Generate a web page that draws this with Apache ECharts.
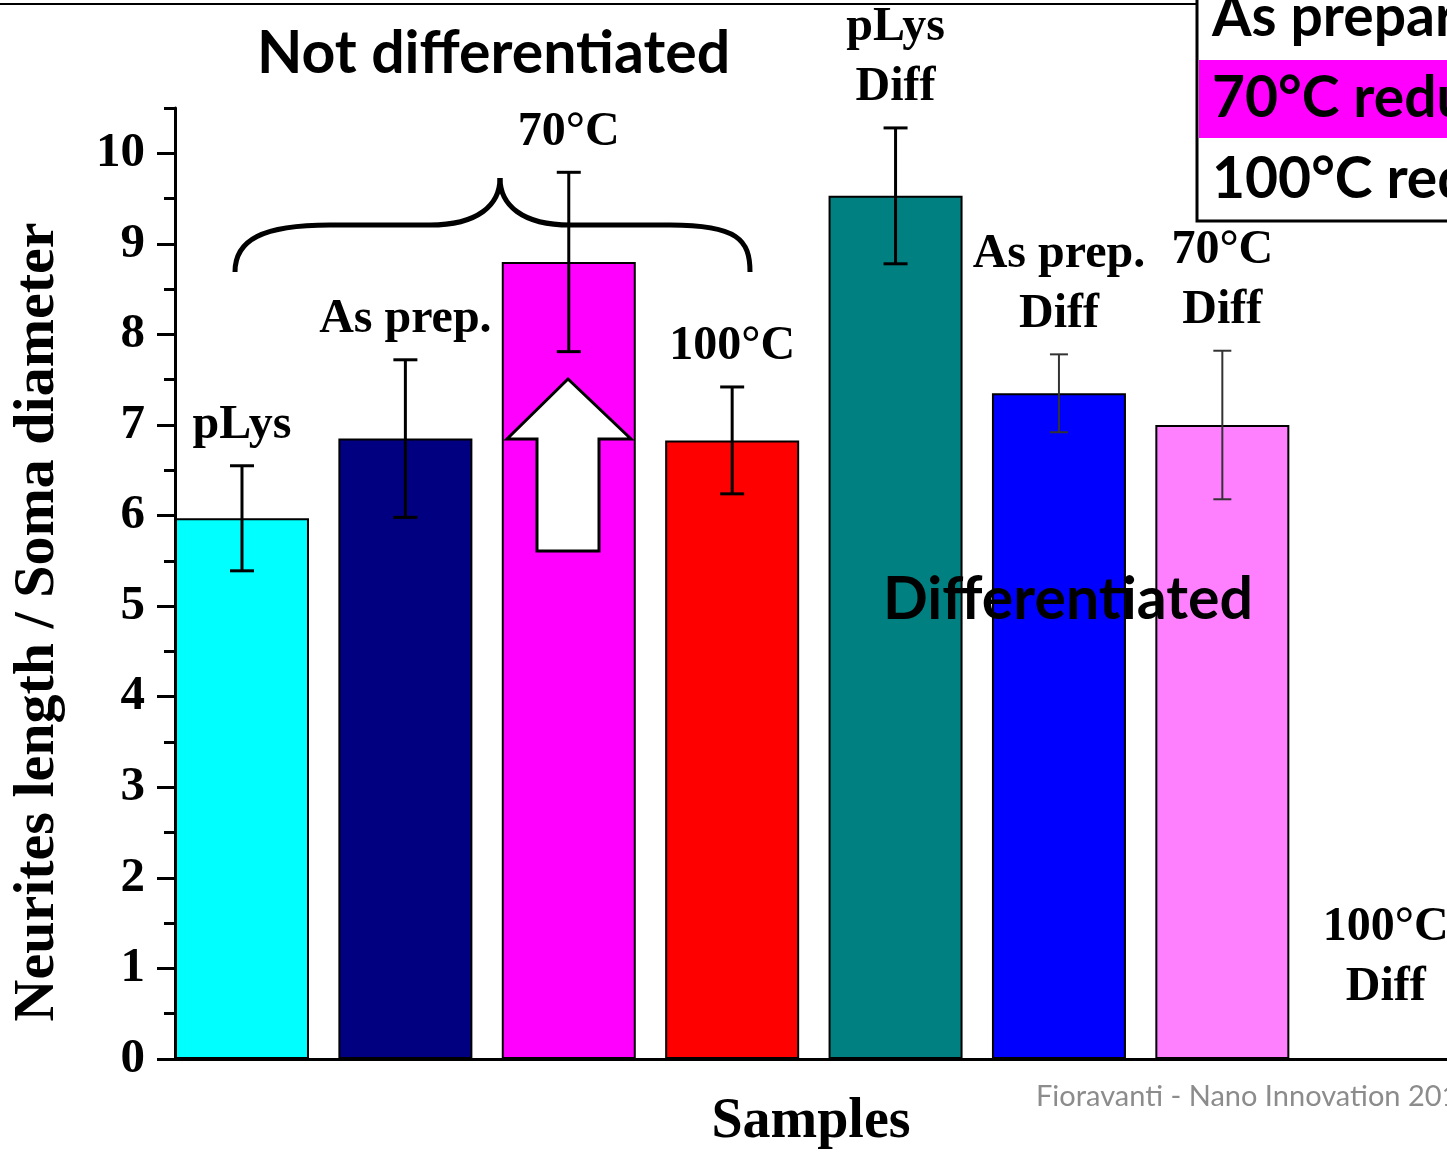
<!DOCTYPE html>
<html>
<head>
<meta charset="utf-8">
<script src="https://cdn.jsdelivr.net/npm/echarts@6/dist/echarts.min.js"></script>
<style>
  html, body { margin: 0; padding: 0; background: #fff; }
  #chart { width: 1447px; height: 1152px; }
</style>
</head>
<body>
<div id="chart"></div>
<script>
// data
var categories = ['pLys', 'As prep.', '70°C', '100°C', 'pLys\nDiff', 'As prep.\nDiff', '70°C\nDiff', '100°C\nDiff'];
var means = [5.97, 6.85, 8.80, 6.83, 9.53, 7.35, 7.00, null];
var errors = [0.58, 0.87, 0.99, 0.59, 0.75, 0.43, 0.82, null];
var yTicks = [0, 1, 2, 3, 4, 5, 6, 7, 8, 9, 10];
var yMinorTicks = [0.5, 1.5, 2.5, 3.5, 4.5, 5.5, 6.5, 7.5, 8.5, 9.5, 10.5];
var legendItems = ['As prepared', '70°C reduced', '100°C reduced'];
var emptyLabelAt = 0.35; // the last sample has no bar, its label sits low

var barColors = ['#00ffff', '#000080', '#ff00ff', '#ff0000', '#008080', '#0000ff', '#ff80ff', '#ffffff'];
var serif = '"Liberation Serif", "Times New Roman", serif';
var sans = 'Lato, "Open Sans", sans-serif';

var barData = [];
var errData = [];
var labelData = [];
for (var i = 0; i < categories.length; i++) {
    if (means[i] != null) {
        barData.push({ value: [i, means[i]], itemStyle: { color: barColors[i] } });
        errData.push([i, means[i] - errors[i], means[i] + errors[i]]);
        labelData.push([i, means[i] + errors[i]]);
    } else {
        labelData.push([i, emptyLabelAt]);
    }
}

function renderErr(params, api) {
    var x = api.value(0);
    var lo = api.coord([x, api.value(1)]);
    var hi = api.coord([x, api.value(2)]);
    var thin = x >= 5;
    var cap = thin ? 9 : 12;
    var style = { stroke: thin ? '#333' : '#000', lineWidth: thin ? 2 : 3 };
    return {
        type: 'group',
        children: [
            { type: 'line', shape: { x1: hi[0], y1: hi[1], x2: lo[0], y2: lo[1] }, style: style },
            { type: 'line', shape: { x1: hi[0] - cap, y1: hi[1], x2: hi[0] + cap, y2: hi[1] }, style: style },
            { type: 'line', shape: { x1: lo[0] - cap, y1: lo[1], x2: lo[0] + cap, y2: lo[1] }, style: style }
        ]
    };
}

var braceStyle = { fill: null, stroke: '#000', lineWidth: 5 };
var legendFont = 'bold 57px ' + sans;

var chart = echarts.init(document.getElementById('chart'));

var option = {
    backgroundColor: '#fff',
    animation: false,
    grid: { left: 175, right: 0, top: 108, bottom: 93, outerBoundsMode: 'none', containLabel: false },
    xAxis: {
        type: 'value',
        min: -0.41,
        max: 7.375,
        name: 'Samples',
        nameLocation: 'middle',
        nameGap: 36,
        nameTextStyle: { fontFamily: serif, fontWeight: 'bold', fontSize: 56, color: '#000' },
        axisLine: { onZero: false, lineStyle: { color: '#000', width: 3 } },
        axisTick: { show: false },
        axisLabel: { show: false },
        splitLine: { show: false }
    },
    yAxis: [
        {
            type: 'value',
            min: 0,
            max: 10.5,
            axisLine: { show: true, onZero: false, lineStyle: { color: '#000', width: 3 } },
            axisTick: { show: true, customValues: yTicks, length: 18, lineStyle: { color: '#000', width: 3 } },
            axisLabel: {
                customValues: yTicks,
                margin: 30,
                fontFamily: serif,
                fontWeight: 'bold',
                fontSize: 49,
                color: '#000'
            },
            splitLine: { show: false }
        },
        {
            type: 'value',
            min: 0,
            max: 10.5,
            position: 'left',
            axisLine: { show: false, onZero: false },
            axisTick: { show: true, customValues: yMinorTicks, length: 11, lineStyle: { color: '#000', width: 3 } },
            axisLabel: { show: false },
            splitLine: { show: false }
        }
    ],
    series: [
        {
            type: 'bar',
            barWidth: 134,
            data: barData,
            itemStyle: { borderColor: '#000', borderWidth: 2 },
            z: 2
        },
        {
            type: 'custom',
            renderItem: renderErr,
            data: errData,
            encode: { x: 0, y: [1, 2] },
            clip: false,
            z: 3
        },
        {
            type: 'scatter',
            symbolSize: 0,
            data: labelData,
            silent: true,
            itemStyle: { opacity: 1 },
            label: {
                show: true,
                position: 'top',
                distance: 10,
                formatter: function (p) { return categories[p.dataIndex]; },
                fontFamily: serif,
                fontWeight: 'bold',
                fontSize: 48,
                lineHeight: 60,
                color: '#000'
            },
            z: 4
        }
    ],
    graphic: [
        // frame line along the top of the slide
        { type: 'line', shape: { x1: 0, y1: 4, x2: 1197, y2: 4 }, style: { stroke: '#000', lineWidth: 2 }, z: 10 },
        {
            type: 'text', x: 38, y: 622, rotation: Math.PI / 2, z: 10,
            style: { text: 'Neurites length / Soma diameter', font: 'bold 58px ' + serif, fill: '#000', align: 'center', verticalAlign: 'middle' }
        },
        {
            type: 'text', x: 257, y: 24, z: 10,
            style: { text: 'Not differentiated', font: 'bold 59px ' + sans, fill: '#000' }
        },
        // curly brace over the undifferentiated group
        { type: 'bezierCurve', z: 10, shape: { x1: 235, y1: 272, cpx1: 235, cpy1: 240, cpx2: 262, cpy2: 225, x2: 330, y2: 225 }, style: braceStyle },
        { type: 'line', z: 10, shape: { x1: 330, y1: 225, x2: 430, y2: 225 }, style: braceStyle },
        { type: 'bezierCurve', z: 10, shape: { x1: 430, y1: 225, cpx1: 478, cpy1: 225, cpx2: 500, cpy2: 205, x2: 500, y2: 178 }, style: braceStyle },
        { type: 'bezierCurve', z: 10, shape: { x1: 500, y1: 178, cpx1: 500, cpy1: 205, cpx2: 522, cpy2: 225, x2: 570, y2: 225 }, style: braceStyle },
        { type: 'line', z: 10, shape: { x1: 570, y1: 225, x2: 670, y2: 225 }, style: braceStyle },
        { type: 'bezierCurve', z: 10, shape: { x1: 670, y1: 225, cpx1: 738, cpy1: 225, cpx2: 750, cpy2: 240, x2: 750, y2: 272 }, style: braceStyle },
        {
            type: 'polygon', z: 10,
            shape: { points: [[568, 379], [631, 439], [599, 439], [599, 551], [537, 551], [537, 439], [507, 439]] },
            style: { fill: '#fff', stroke: '#000', lineWidth: 3 }
        },
        {
            type: 'text', x: 883, y: 570, z: 10,
            style: { text: 'Differentiated', font: 'bold 59px ' + sans, fill: '#000' }
        },
        // legend box, cut by the right edge
        { type: 'rect', z: 10, shape: { x: 1197, y: -10, width: 300, height: 231 }, style: { fill: '#fff', stroke: '#000', lineWidth: 3 } },
        { type: 'rect', z: 11, shape: { x: 1199, y: 60, width: 260, height: 78 }, style: { fill: '#ff00ff' } },
        { type: 'text', z: 12, x: 1212, y: -11, style: { text: legendItems[0], font: legendFont, fill: '#000' } },
        { type: 'text', z: 12, x: 1212, y: 70, style: { text: legendItems[1], font: legendFont, fill: '#000' } },
        { type: 'text', z: 12, x: 1212, y: 151, style: { text: legendItems[2], font: legendFont, fill: '#000' } },
        {
            type: 'text', x: 1036, y: 1082, z: 10,
            style: { text: 'Fioravanti - Nano Innovation 2016', font: '29px ' + sans, fill: '#8c8c8c' }
        }
    ]
};

chart.setOption(option);
</script>
</body>
</html>
